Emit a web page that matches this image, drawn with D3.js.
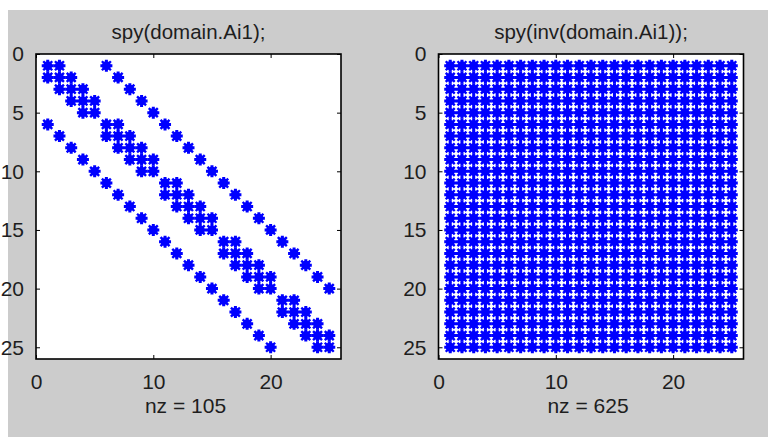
<!DOCTYPE html>
<html>
<head>
<meta charset="utf-8">
<script src="https://cdn.jsdelivr.net/npm/d3@7"></script>
<style>
  html, body { margin: 0; padding: 0; background: #ffffff; }
  svg { display: block; }
  text { font-family: "Liberation Sans", Arial, sans-serif; fill: #1e1e1e; }
</style>
</head>
<body>
<svg id="fig" width="768" height="437"></svg>
<script>
// Sparsity patterns, one string per matrix row ('*' = nonzero), grouped in 5-column blocks
const patternA = [
  "**... *.... ..... ..... .....",
  "***.. .*... ..... ..... .....",
  ".***. ..*.. ..... ..... .....",
  "..*** ...*. ..... ..... .....",
  "...** ....* ..... ..... .....",
  "*.... **... *.... ..... .....",
  ".*... ***.. .*... ..... .....",
  "..*.. .***. ..*.. ..... .....",
  "...*. ..*** ...*. ..... .....",
  "....* ...** ....* ..... .....",
  "..... *.... **... *.... .....",
  "..... .*... ***.. .*... .....",
  "..... ..*.. .***. ..*.. .....",
  "..... ...*. ..*** ...*. .....",
  "..... ....* ...** ....* .....",
  "..... ..... *.... **... *....",
  "..... ..... .*... ***.. .*...",
  "..... ..... ..*.. .***. ..*..",
  "..... ..... ...*. ..*** ...*.",
  "..... ..... ....* ...** ....*",
  "..... ..... ..... *.... **...",
  "..... ..... ..... .*... ***..",
  "..... ..... ..... ..*.. .***.",
  "..... ..... ..... ...*. ..***",
  "..... ..... ..... ....* ...**"
];

const patternInvA = [
  "***** ***** ***** ***** *****",
  "***** ***** ***** ***** *****",
  "***** ***** ***** ***** *****",
  "***** ***** ***** ***** *****",
  "***** ***** ***** ***** *****",
  "***** ***** ***** ***** *****",
  "***** ***** ***** ***** *****",
  "***** ***** ***** ***** *****",
  "***** ***** ***** ***** *****",
  "***** ***** ***** ***** *****",
  "***** ***** ***** ***** *****",
  "***** ***** ***** ***** *****",
  "***** ***** ***** ***** *****",
  "***** ***** ***** ***** *****",
  "***** ***** ***** ***** *****",
  "***** ***** ***** ***** *****",
  "***** ***** ***** ***** *****",
  "***** ***** ***** ***** *****",
  "***** ***** ***** ***** *****",
  "***** ***** ***** ***** *****",
  "***** ***** ***** ***** *****",
  "***** ***** ***** ***** *****",
  "***** ***** ***** ***** *****",
  "***** ***** ***** ***** *****",
  "***** ***** ***** ***** *****"
];

const titles = ["spy(domain.Ai1);", "spy(inv(domain.Ai1));"];
const xTicks = [0, 10, 20];
const yTicks = [0, 5, 10, 15, 20, 25];
const matrixSize = 25;

// Convert a pattern into a list of {row, col} nonzero entries (1-based)
function nonzeros(pattern) {
  const pts = [];
  pattern.forEach((line, i) => {
    line.replace(/ /g, "").split("").forEach((ch, j) => {
      if (ch === "*") pts.push({ row: i + 1, col: j + 1 });
    });
  });
  return pts;
}

const svg = d3.select("#fig");

// figure background
svg.append("rect").attr("x", 8).attr("y", 10)
  .attr("width", 760).attr("height", 427).attr("fill", "#cccccc");

const panels = [
  { pattern: patternA, title: titles[0], x0: 36, y0: 54, size: 305 },
  { pattern: patternInvA, title: titles[1], x0: 438.5, y0: 54, size: 305 }
];

// '*' marker: plus and cross strokes over a solid core
function starMarker(g, cx, cy) {
  const s = g.append("g").attr("transform", `translate(${cx},${cy})`);
  s.append("circle").attr("r", 4.5).attr("fill", "#0000ff");
  const a = 6, d = 4.5;
  s.append("path")
    .attr("d", `M${-a},0L${a},0M0,${-a}L0,${a}`)
    .attr("stroke", "#0000ff").attr("stroke-width", 3).attr("fill", "none");
  s.append("path")
    .attr("d", `M${-d},${-d}L${d},${d}M${-d},${d}L${d},${-d}`)
    .attr("stroke", "#0000ff").attr("stroke-width", 2.4).attr("fill", "none");
}

panels.forEach(p => {
  const n = matrixSize;
  const x = d3.scaleLinear().domain([0, n + 1]).range([p.x0, p.x0 + p.size]);
  const y = d3.scaleLinear().domain([0, n + 1]).range([p.y0, p.y0 + p.size]);
  const g = svg.append("g");

  g.append("rect").attr("x", p.x0).attr("y", p.y0)
    .attr("width", p.size).attr("height", p.size).attr("fill", "#ffffff");

  const pts = nonzeros(p.pattern);
  const marks = g.append("g");
  pts.forEach(d => starMarker(marks, x(d.col), y(d.row)));

  // axes: ticks inside, on all four sides
  const tk = -4;
  const axB = g.append("g").attr("transform", `translate(0,${p.y0 + p.size})`)
    .call(d3.axisBottom(x).tickValues(xTicks).tickSize(tk).tickPadding(12));
  const axT = g.append("g").attr("transform", `translate(0,${p.y0})`)
    .call(d3.axisTop(x).tickValues(xTicks).tickSize(tk).tickFormat(""));
  const axL = g.append("g").attr("transform", `translate(${p.x0},0)`)
    .call(d3.axisLeft(y).tickValues(yTicks).tickSize(tk).tickPadding(12));
  const axR = g.append("g").attr("transform", `translate(${p.x0 + p.size},0)`)
    .call(d3.axisRight(y).tickValues(yTicks).tickSize(tk).tickFormat(""));

  [axB, axT, axL, axR].forEach(ax => {
    ax.select(".domain").remove();
    ax.selectAll(".tick line").attr("stroke", "#000").attr("stroke-width", 1);
    ax.selectAll(".tick text").attr("font-size", 21).attr("fill", "#1e1e1e")
      .attr("font-family", "Liberation Sans, Arial, sans-serif");
  });
  axB.selectAll(".tick text").attr("dy", "0.85em");

  // plot box
  g.append("rect").attr("x", p.x0).attr("y", p.y0)
    .attr("width", p.size).attr("height", p.size)
    .attr("fill", "none").attr("stroke", "#000").attr("stroke-width", 1.6);

  // title and nonzero count
  g.append("text").attr("x", p.x0 + p.size / 2).attr("y", 39)
    .attr("text-anchor", "middle").attr("font-size", 20.5).text(p.title);
  g.append("text").attr("x", p.x0 + p.size / 2 - 3).attr("y", 413)
    .attr("text-anchor", "middle").attr("font-size", 21).text(`nz = ${pts.length}`);
});
</script>
</body>
</html>
